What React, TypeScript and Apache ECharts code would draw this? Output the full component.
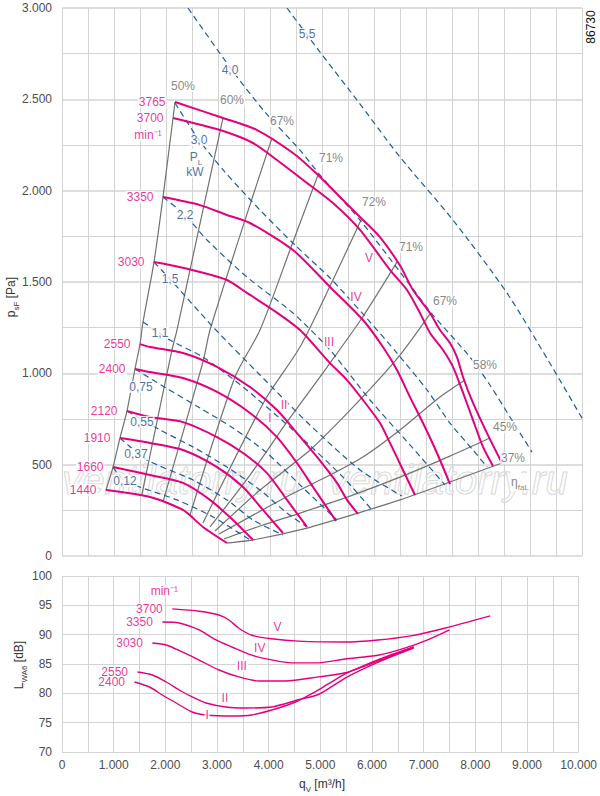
import { useEffect, useRef } from 'react';
import * as echarts from 'echarts';

const PINK = '#E4007C';
const BLUE = '#1F5C9C';
const BLUE_TXT = '#1A4D8C';
const GREY = '#727272';
const GRID = '#D3D3D3';
const FONT = 'Liberation Sans';

// fan curves: qV [m3/h], psF [Pa]
const speeds = ['3765', '3700', '3350', '3030', '2550', '2400', '2120', '1910', '1660', '1440'];
const fan3765 = [[2173, 2485], [3096, 2398], [3750, 2332], [4442, 2206], [4904, 2091], [5346, 1965], [5731, 1856], [6115, 1746], [6500, 1590], [6750, 1456], [7077, 1330], [7269, 1237], [7461, 1166], [7596, 1089], [7711, 980], [7904, 838], [8173, 673], [8461, 509]];
const fan3700 = [[2135, 2398], [3038, 2332], [3673, 2261], [4134, 2168], [4711, 2042], [5211, 1932], [5731, 1785], [6307, 1566], [6634, 1456], [6884, 1330], [7077, 1221], [7327, 1128], [7519, 1035], [7692, 909], [7904, 744], [8096, 597], [8288, 493]];
const fan3350 = [[1942, 1965], [2654, 1921], [3173, 1867], [3615, 1823], [4442, 1675], [5154, 1473], [5788, 1292], [6173, 1144], [6442, 1018], [6692, 870], [6942, 728], [7211, 564], [7461, 394]];
const fan3030 = [[1769, 1609], [2077, 1593], [2654, 1555], [3173, 1511], [3558, 1440], [4058, 1347], [4577, 1237], [5154, 1056], [5481, 963], [5788, 854], [6115, 728], [6307, 619], [6557, 471], [6788, 334]];
const fan2550 = [[1500, 1160], [1692, 1144], [2327, 1111], [2981, 1035], [3615, 925], [4134, 799], [4519, 673], [4904, 542], [5288, 400], [5481, 307], [5692, 230]];
const fan2400 = [[1404, 1024], [1692, 1007], [2327, 974], [2981, 898], [3615, 783], [4134, 651], [4519, 509], [4827, 378], [5269, 192]];
const fan2120 = [[1250, 794], [1692, 761], [2327, 733], [2981, 651], [3481, 564], [3942, 454], [4327, 307], [4711, 159]];
const fan1910 = [[1115, 646], [1692, 619], [2327, 580], [2981, 487], [3481, 378], [3865, 252], [4250, 126]];
const fan1660 = [[981, 487], [1692, 443], [2327, 400], [2846, 307], [3288, 197], [3673, 88]];
const fan1440 = [[846, 361], [1692, 323], [2327, 252], [2711, 159], [3173, 71]];
const fanCurves = [fan3765, fan3700, fan3350, fan3030, fan2550, fan2400, fan2120, fan1910, fan1660, fan1440];

// efficiency lines
const effNames = ['50%', '60%', '67%', '71%', '72%', '71%', '67%', '58%', '45%', '37%'];
const eff50 = [[2173, 2485], [2135, 2398], [1942, 1965], [1769, 1609], [1558, 1281], [1500, 1160], [1404, 1024], [1250, 794], [1115, 646], [981, 487], [846, 361]];
const eff60 = [[3096, 2398], [2731, 1921], [2211, 1237], [2115, 1128], [1538, 339]];
const eff67 = [[4038, 2288], [3519, 1839], [2846, 1237], [2711, 1062], [1942, 296]];
const eff71 = [[4923, 2086], [4384, 1675], [3808, 1237], [3327, 980], [2461, 224]];
const eff72 = [[5769, 1850], [5192, 1500], [4577, 1144], [3904, 854], [2711, 181]];
const eff71b = [[6442, 1609], [5769, 1303], [5057, 1018], [4327, 734], [3615, 443], [2846, 159]];
const eff67b = [[7077, 1325], [6500, 1100], [5673, 838], [4769, 580], [3808, 361], [2942, 137]];
const eff58 = [[7750, 963], [7269, 870], [6500, 690], [5788, 542], [5154, 443], [4384, 334], [3019, 120]];
const eff45 = [[8230, 646], [7461, 547], [6500, 432], [5538, 328], [4577, 235], [3808, 164], [3115, 93]];
const eff37 = [[8461, 509], [7461, 405], [6500, 307], [5692, 235], [4711, 153], [3673, 88], [3173, 71]];
const effLines = [eff50, eff60, eff67, eff71, eff72, eff71b, eff67b, eff58, eff45, eff37];
const effLabelPos = [[2327, 2573], [3269, 2496], [4231, 2381], [5173, 2179], [6000, 1938], [6711, 1691], [7365, 1396], [8134, 1046], [8519, 706], [8673, 536]];
const etaLabelPos = [8807, 405];

// shaft power lines PL [kW]
const powerNames = ['5,5', '4,0', '3,0', '2,2', '1,5', '1,1', '0,75', '0,55', '0,37', '0,12'];
const p55 = [[4327, 3000], [4961, 2759], [5673, 2496], [6500, 2184], [7519, 1839], [8557, 1440], [9346, 1073], [10000, 755]];
const p40 = [[2423, 3000], [3269, 2660], [3904, 2430], [4577, 2222], [4961, 2086], [5731, 1839], [6692, 1483], [7134, 1319], [7846, 1089], [8230, 936], [8615, 761], [9038, 569]];
const p30 = [[2173, 2480], [2635, 2277], [3134, 2102], [3808, 1894], [4481, 1702], [5154, 1522], [5788, 1325], [6442, 1111], [7019, 909], [7461, 728], [7904, 580], [8173, 487]];
const p22 = [[1942, 1965], [2365, 1867], [2788, 1730], [3558, 1527], [4442, 1330], [5154, 1128], [5923, 854], [6692, 608], [7365, 389]];
const p15 = [[1769, 1609], [2077, 1516], [2904, 1254], [3808, 991], [4769, 717], [5731, 471], [6538, 328]];
const p11 = [[1558, 1281], [2077, 1182], [2711, 1089], [3481, 925], [4442, 690], [5404, 432], [5961, 252]];
const p075 = [[1404, 1024], [2000, 920], [2654, 810], [3288, 701], [3942, 564], [4577, 389], [5288, 197]];
const p055 = [[1250, 794], [1885, 690], [2519, 597], [3173, 487], [3808, 361], [4327, 235], [4711, 159]];
const p037 = [[1115, 646], [1635, 526], [2519, 416], [3173, 307], [3673, 197], [4250, 115]];
const p012 = [[981, 487], [1211, 411], [2211, 307], [2904, 214], [3615, 88]];
const powerLines = [p55, p40, p30, p22, p15, p11, p075, p055, p037, p012];
const powerLabelPos = [[4711, 2857], [3231, 2660], [2635, 2277], [2365, 1867], [2077, 1516], [1885, 1221], [1519, 925], [1538, 734], [1423, 558], [1211, 411]];
const unitLabelPos = [[2577, 2184], [2558, 2102]];

const stepNames = ['V', 'IV', 'III', 'II', 'I'];
const stepPosTop = [[5904, 1631], [5654, 1418], [5135, 1171], [4269, 827], [4000, 755]];
const minPosTop = [1654, 2305];

// sound power LWA6 [dB]
const noiseSpeeds = ['3700', '3350', '3030', '2550', '2400'];
const n3700 = [[2135, 94.4], [2654, 94.0], [3038, 93.35], [3231, 92.5], [3423, 91.1], [3673, 89.9], [4058, 89.3], [4577, 88.9], [5481, 88.75], [6115, 89.1], [6750, 89.8], [7404, 91.1], [8288, 93.2]];
const n3350 = [[1942, 92.16], [2269, 91.99], [2654, 90.8], [2981, 89.1], [3288, 87.9], [3673, 86.5], [4058, 85.7], [4442, 85.2], [4961, 85.2], [5481, 85.85], [6115, 86.5], [6634, 87.7], [7077, 89.1], [7500, 90.8]];
const n3030 = [[1750, 88.58], [2019, 88.24], [2327, 87.05], [2654, 85.68], [3038, 83.98], [3423, 82.8], [3808, 82.1], [4327, 82.1], [4961, 82.8], [5481, 83.5], [6115, 85.5], [6808, 87.9]];
const n2550 = [[1462, 83.64], [1750, 83.13], [2019, 81.93], [2269, 80.57], [2519, 79.38], [2788, 78.35], [3173, 77.67], [3558, 77.5], [4058, 77.67], [4577, 78.9], [4961, 79.8], [5481, 82.6], [5865, 84.3], [6307, 86.0], [6808, 87.7]];
const n2400 = [[1404, 81.93], [1692, 81.08], [1942, 79.72], [2211, 78.35], [2519, 76.82], [2788, 76.31], [3288, 76.14], [3673, 76.31], [4192, 77.5], [4519, 78.52], [4827, 79.9], [5154, 81.6], [5481, 83.3], [5865, 84.8], [6307, 86.36], [6808, 87.9]];
const noiseCurves = [n3700, n3350, n3030, n2550, n2400];
const stepPosBottom = [[4173, 91.31], [3827, 87.73], [3481, 84.66], [3154, 79.2], [2808, 76.3]];
const minPosBottom = [1981, 97.44];

const fmt = (v: number) => String(v).replace(/\B(?=(\d{3})+(?!\d))/g, '.');

const rich = {
  s: { fontSize: 8, lineHeight: 18, verticalAlign: 'bottom', fontFamily: FONT },
};

const line = (data: number[][], gi: number, color: string, width: number, type: any, z: number) => ({
  type: 'line',
  xAxisIndex: gi,
  yAxisIndex: gi,
  data,
  symbol: 'none',
  showSymbol: false,
  smooth: 0.25,
  silent: true,
  z,
  lineStyle: { color, width, type },
});

const labels = (gi: number, items: any[], color: string, position: string, distance: number) => ({
  type: 'scatter',
  xAxisIndex: gi,
  yAxisIndex: gi,
  symbolSize: 1,
  silent: true,
  z: 10,
  itemStyle: { color: 'rgba(0,0,0,0)' },
  data: items,
  label: {
    show: true,
    position,
    distance,
    formatter: (p: any) => p.name,
    color,
    fontSize: 12,
    fontFamily: FONT,
    backgroundColor: '#fff',
    padding: [0, 1],
    rich: { s: { ...rich.s, color } },
  },
});

const axisX = (gi: number, showLabels: boolean) => ({
  type: 'value',
  gridIndex: gi,
  min: 0,
  max: 10000,
  interval: 1000,
  axisLine: { show: false },
  axisTick: { show: false },
  minorTick: { show: true, splitNumber: 2, length: 0 },
  axisLabel: { show: showLabels, formatter: fmt, color: '#4d4d4d', fontSize: 12, margin: 7, fontFamily: FONT },
  splitLine: { show: true, lineStyle: { color: GRID, width: 1 } },
  minorSplitLine: { show: true, lineStyle: { color: GRID, width: 1 } },
});

const axisY = (gi: number, min: number, max: number, interval: number, minor: number, mainWidth: number) => ({
  type: 'value',
  gridIndex: gi,
  min,
  max,
  interval,
  axisLine: { show: false },
  axisTick: { show: false },
  minorTick: { show: minor > 1, splitNumber: Math.max(minor, 1), length: 0 },
  axisLabel: { formatter: fmt, color: '#4d4d4d', fontSize: 12, margin: 10, fontFamily: FONT },
  splitLine: { show: true, lineStyle: { color: GRID, width: mainWidth } },
  minorSplitLine: { show: minor > 1, lineStyle: { color: GRID, width: 1 } },
});

const axisTitle = (x: number, y: number, text: string, rotation: number) => ({
  type: 'text',
  x,
  y,
  rotation,
  style: {
    text,
    fill: '#333',
    fontSize: 12,
    fontFamily: FONT,
    align: 'center',
    verticalAlign: 'middle',
    textAlign: 'center',
    textVerticalAlign: 'middle',
    rich: { n: { fontSize: 12, fill: '#333', fontFamily: FONT }, s: { ...rich.s, fill: '#333' } },
  },
});

// faint site watermark, drawn under the curves
const watermark = (x: number) => ({
  type: 'text',
  x,
  y: 480,
  z: 1,
  silent: true,
  style: {
    text: 'ventilatorry.ru',
    fontSize: 40,
    fontStyle: 'italic',
    fontFamily: FONT,
    fill: 'rgba(255,255,255,0.3)',
    stroke: '#d2d2d2',
    lineWidth: 1,
    align: 'center',
    verticalAlign: 'middle',
    textAlign: 'center',
    textVerticalAlign: 'middle',
  },
});

const App = () => {
  const chartRef = useRef<HTMLDivElement>(null);

  useEffect(() => {
    if (!chartRef.current) return;
    const chart = echarts.init(chartRef.current, null, { renderer: 'svg' });

    const series: any[] = [];
    effLines.forEach((d) => series.push(line(d, 0, GREY, 1.2, 'solid', 2)));
    powerLines.forEach((d) => series.push(line(d, 0, BLUE, 1.2, [6, 4], 3)));
    fanCurves.forEach((d) => series.push(line(d, 0, PINK, 2, 'solid', 4)));
    noiseCurves.forEach((d) => series.push(line(d, 1, PINK, 1.4, 'solid', 4)));

    series.push(labels(0, fanCurves.map((c, i) => ({ value: c[0], name: speeds[i] })), PINK, 'left', 8));
    series.push(labels(0, [{ value: minPosTop, name: 'min⁻¹' }], PINK, 'inside', 0));
    series.push(labels(0, stepPosTop.map((p, i) => ({ value: p, name: stepNames[i] })), PINK, 'inside', 0));
    series.push(labels(0, effLabelPos.map((p, i) => ({ value: p, name: effNames[i] })), '#666', 'inside', 0));
    series.push(labels(0, [{ value: etaLabelPos, name: 'η{s|faL}' }], '#666', 'inside', 0));
    series.push(labels(0, powerLabelPos.map((p, i) => ({ value: p, name: powerNames[i] })), BLUE_TXT, 'inside', 0));
    series.push(labels(0, [{ value: unitLabelPos[0], name: 'P{s|L}' }, { value: unitLabelPos[1], name: 'kW' }], BLUE_TXT, 'inside', 0));

    series.push(labels(1, noiseCurves.map((c, i) => ({ value: c[0], name: noiseSpeeds[i] })), PINK, 'left', 8));
    series.push(labels(1, [{ value: minPosBottom, name: 'min⁻¹' }], PINK, 'inside', 0));
    series.push(labels(1, stepPosBottom.map((p, i) => ({ value: p, name: stepNames[i] })), PINK, 'inside', 0));

    chart.setOption({
      animation: false,
      textStyle: { fontFamily: FONT },
      grid: [
        { left: 62, top: 8, width: 520, height: 548 },
        { left: 62, top: 576, width: 520, height: 176 },
      ],
      xAxis: [axisX(0, false), axisX(1, true)],
      yAxis: [axisY(0, 0, 3000, 500, 2, 1.6), axisY(1, 70, 100, 5, 0, 1)],
      series,
      graphic: [
        watermark(182),
        watermark(448),
        axisTitle(11, 297, '{n|p}{s|sF}{n| [Pa]}', Math.PI / 2),
        axisTitle(19, 665, '{n|L}{s|WA6}{n| [dB]}', Math.PI / 2),
        axisTitle(322, 784, '{n|q}{s|V}{n| [m³/h]}', 0),
        {
          type: 'text',
          x: 591,
          y: 27,
          rotation: Math.PI / 2,
          style: {
            text: '86730',
            fill: '#111',
            fontSize: 12,
            fontFamily: FONT,
            align: 'center',
            verticalAlign: 'middle',
            textAlign: 'center',
            textVerticalAlign: 'middle',
          },
        },
      ],
    });

    return () => {
      chart.dispose();
    };
  }, []);

  return <div ref={chartRef} style={{ position: 'fixed', left: 0, top: 0, width: '600px', height: '796px', background: '#fff' }} />;
};

export default App;
